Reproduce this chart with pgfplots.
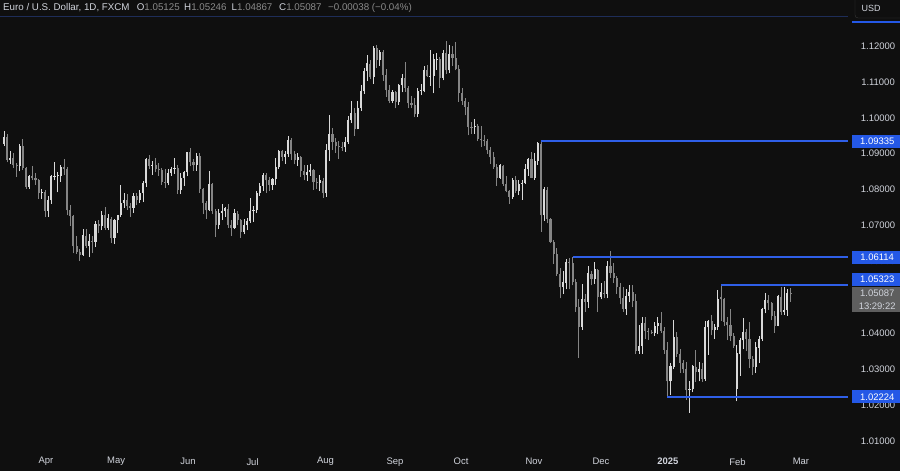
\documentclass[border=0pt]{standalone}
\usepackage{pgfplots}
\pgfplotsset{compat=1.18}
\usepackage{pgfplotstable}
\usepackage{fontspec}
\setmainfont{Liberation Sans}
\definecolor{bg}{HTML}{0F0F0F}
\definecolor{upc}{HTML}{D9D9D9}
\definecolor{dnc}{HTML}{858585}
\definecolor{lvl}{HTML}{2F5FE8}
\definecolor{lbl}{HTML}{2458E6}
\definecolor{txt}{HTML}{D1D4DC}
\definecolor{dim}{HTML}{8A8A8A}
\definecolor{greybox}{HTML}{5E5E5E}
\definecolor{topline}{HTML}{1E2D58}
\definecolor{usdb}{HTML}{3A3A3A}

\pgfplotstableread{
i o h l c
0 1.0927 1.0963 1.0922 1.0947
1 1.0947 1.0955 1.0876 1.0882
2 1.0882 1.0907 1.0872 1.0888
3 1.0888 1.0903 1.0860 1.0869
4 1.0869 1.0875 1.0836 1.0866
5 1.0866 1.0928 1.0851 1.0922
6 1.0922 1.0942 1.0855 1.0859
7 1.0859 1.0864 1.0802 1.0808
8 1.0808 1.0842 1.0802 1.0838
9 1.0838 1.0865 1.0826 1.0831
10 1.0831 1.0845 1.0813 1.0826
11 1.0826 1.0830 1.0774 1.0790
12 1.0790 1.0801 1.0775 1.0792
13 1.0792 1.0800 1.0725 1.0741
14 1.0741 1.0783 1.0724 1.0770
15 1.0770 1.0840 1.0760 1.0836
16 1.0836 1.0876 1.0826 1.0837
17 1.0837 1.0848 1.0792 1.0839
18 1.0839 1.0868 1.0822 1.0862
19 1.0862 1.0885 1.0842 1.0858
20 1.0858 1.0864 1.0728 1.0742
21 1.0742 1.0756 1.0698 1.0727
22 1.0727 1.0730 1.0622 1.0642
23 1.0642 1.0672 1.0620 1.0625
24 1.0625 1.0634 1.0601 1.0619
25 1.0619 1.0690 1.0616 1.0672
26 1.0672 1.0690 1.0636 1.0644
27 1.0644 1.0675 1.0611 1.0656
28 1.0656 1.0670 1.0624 1.0655
29 1.0655 1.0713 1.0640 1.0703
30 1.0703 1.0716 1.0678 1.0699
31 1.0699 1.0740 1.0687 1.0728
32 1.0728 1.0752 1.0688 1.0693
33 1.0693 1.0733 1.0687 1.0719
34 1.0719 1.0725 1.0650 1.0666
35 1.0666 1.0718 1.0649 1.0715
36 1.0715 1.0730 1.0679 1.0728
37 1.0728 1.0812 1.0723 1.0762
38 1.0762 1.0790 1.0750 1.0771
39 1.0771 1.0789 1.0744 1.0753
40 1.0753 1.0763 1.0724 1.0749
41 1.0749 1.0791 1.0735 1.0783
42 1.0783 1.0790 1.0756 1.0771
43 1.0771 1.0800 1.0764 1.0790
44 1.0790 1.0823 1.0765 1.0818
45 1.0818 1.0887 1.0808 1.0884
46 1.0884 1.0895 1.0858 1.0866
47 1.0866 1.0880 1.0842 1.0869
48 1.0869 1.0887 1.0848 1.0857
49 1.0857 1.0873 1.0838 1.0855
50 1.0855 1.0859 1.0814 1.0820
51 1.0820 1.0858 1.0805 1.0818
52 1.0818 1.0858 1.0812 1.0847
53 1.0847 1.0862 1.0838 1.0858
54 1.0858 1.0889 1.0844 1.0859
55 1.0859 1.0868 1.0788 1.0800
56 1.0800 1.0846 1.0788 1.0831
57 1.0831 1.0852 1.0811 1.0848
58 1.0848 1.0905 1.0837 1.0904
59 1.0904 1.0916 1.0865 1.0876
60 1.0876 1.0886 1.0853 1.0868
61 1.0868 1.0902 1.0852 1.0893
62 1.0893 1.0901 1.0791 1.0801
63 1.0801 1.0804 1.0732 1.0764
64 1.0764 1.0768 1.0719 1.0742
65 1.0742 1.0852 1.0739 1.0815
66 1.0815 1.0819 1.0732 1.0740
67 1.0740 1.0745 1.0668 1.0702
68 1.0702 1.0745 1.0691 1.0735
69 1.0735 1.0761 1.0716 1.0740
70 1.0740 1.0751 1.0725 1.0747
71 1.0747 1.0760 1.0694 1.0702
72 1.0702 1.0714 1.0671 1.0693
73 1.0693 1.0747 1.0691 1.0733
74 1.0733 1.0741 1.0700 1.0714
75 1.0714 1.0717 1.0665 1.0683
76 1.0683 1.0719 1.0675 1.0701
77 1.0701 1.0720 1.0687 1.0713
78 1.0713 1.0776 1.0708 1.0740
79 1.0740 1.0753 1.0710 1.0742
80 1.0742 1.0797 1.0736 1.0790
81 1.0790 1.0817 1.0782 1.0810
82 1.0810 1.0845 1.0796 1.0840
83 1.0840 1.0845 1.0791 1.0826
84 1.0826 1.0834 1.0796 1.0813
85 1.0813 1.0833 1.0800 1.0830
86 1.0830 1.0889 1.0814 1.0863
87 1.0863 1.0910 1.0857 1.0907
88 1.0907 1.0911 1.0879 1.0892
89 1.0892 1.0907 1.0872 1.0899
90 1.0899 1.0948 1.0892 1.0939
91 1.0939 1.0945 1.0882 1.0898
92 1.0898 1.0907 1.0870 1.0882
93 1.0882 1.0902 1.0867 1.0891
94 1.0891 1.0893 1.0835 1.0853
95 1.0853 1.0869 1.0826 1.0841
96 1.0841 1.0869 1.0825 1.0849
97 1.0849 1.0871 1.0838 1.0855
98 1.0855 1.0858 1.0800 1.0820
99 1.0820 1.0831 1.0803 1.0817
100 1.0817 1.0840 1.0797 1.0825
101 1.0825 1.0832 1.0777 1.0790
102 1.0790 1.0926 1.0780 1.0910
103 1.0910 1.1009 1.0880 1.0954
104 1.0954 1.0971 1.0910 1.0932
105 1.0932 1.0944 1.0902 1.0922
106 1.0922 1.0935 1.0886 1.0919
107 1.0919 1.0933 1.0907 1.0918
108 1.0918 1.0946 1.0906 1.0933
109 1.0933 1.1005 1.0928 1.0993
110 1.0993 1.1047 1.0985 1.1013
111 1.1013 1.1027 1.0949 1.0970
112 1.0970 1.1047 1.0968 1.1028
113 1.1028 1.1090 1.1020 1.1075
114 1.1075 1.1138 1.1067 1.1130
115 1.1130 1.1174 1.1103 1.1151
116 1.1151 1.1160 1.1107 1.1113
117 1.1113 1.1201 1.1095 1.1193
118 1.1193 1.1202 1.1138 1.1160
119 1.1160 1.1190 1.1145 1.1184
120 1.1184 1.1188 1.1102 1.1120
121 1.1120 1.1135 1.1058 1.1077
122 1.1077 1.1090 1.1040 1.1047
123 1.1047 1.1078 1.1041 1.1071
124 1.1071 1.1075 1.1026 1.1044
125 1.1044 1.1095 1.1036 1.1090
126 1.1090 1.1121 1.1071 1.1111
127 1.1111 1.1155 1.1072 1.1084
128 1.1084 1.1089 1.1026 1.1040
129 1.1040 1.1060 1.1026 1.1036
130 1.1036 1.1054 1.1002 1.1011
131 1.1011 1.1083 1.1002 1.1075
132 1.1075 1.1093 1.1063 1.1076
133 1.1076 1.1144 1.1071 1.1132
134 1.1132 1.1147 1.1115 1.1116
135 1.1116 1.1189 1.1089 1.1117
136 1.1117 1.1179 1.1068 1.1162
137 1.1162 1.1180 1.1133 1.1163
138 1.1163 1.1168 1.1083 1.1112
139 1.1112 1.1189 1.1104 1.1180
140 1.1180 1.1214 1.1123 1.1132
141 1.1132 1.1203 1.1124 1.1178
142 1.1178 1.1201 1.1144 1.1166
143 1.1166 1.1210 1.1132 1.1135
144 1.1135 1.1148 1.1045 1.1068
145 1.1068 1.1083 1.1036 1.1047
146 1.1047 1.1055 1.1007 1.1031
147 1.1031 1.1045 1.0951 1.0975
148 1.0975 1.0987 1.0955 1.0974
149 1.0974 1.0998 1.0955 1.0977
150 1.0977 1.0983 1.0935 1.0941
151 1.0941 1.0976 1.0918 1.0937
152 1.0937 1.0951 1.0922 1.0935
153 1.0935 1.0942 1.0899 1.0909
154 1.0909 1.0920 1.0872 1.0890
155 1.0890 1.0905 1.0858 1.0862
156 1.0862 1.0870 1.0811 1.0833
157 1.0833 1.0870 1.0830 1.0867
158 1.0867 1.0869 1.0810 1.0816
159 1.0816 1.0837 1.0792 1.0797
160 1.0797 1.0800 1.0761 1.0780
161 1.0780 1.0833 1.0775 1.0826
162 1.0826 1.0838 1.0790 1.0797
163 1.0797 1.0826 1.0785 1.0815
164 1.0815 1.0827 1.0771 1.0819
165 1.0819 1.0870 1.0815 1.0856
166 1.0856 1.0889 1.0838 1.0884
167 1.0884 1.0905 1.0831 1.0833
168 1.0833 1.0903 1.0828 1.0880
169 1.0880 1.0932 1.0869 1.0928
170 1.0928 1.09335 1.0683 1.0728
171 1.0728 1.0806 1.0713 1.0800
172 1.0800 1.0808 1.0706 1.0718
173 1.0718 1.0722 1.0650 1.0655
174 1.0655 1.0660 1.0594 1.0620
175 1.0620 1.0637 1.0560 1.0565
176 1.0565 1.0582 1.0497 1.0529
177 1.0529 1.0574 1.0510 1.0541
178 1.0541 1.0608 1.0522 1.0597
179 1.0597 1.0609 1.0522 1.0596
180 1.0596 1.06114 1.0533 1.0543
181 1.0543 1.0552 1.0459 1.0474
182 1.0474 1.0496 1.0332 1.0418
183 1.0418 1.0537 1.0410 1.0496
184 1.0496 1.0510 1.0460 1.0488
185 1.0488 1.0587 1.0471 1.0566
186 1.0566 1.0572 1.0533 1.0551
187 1.0551 1.0597 1.0538 1.0577
188 1.0577 1.0578 1.0460 1.0500
189 1.0500 1.0541 1.0494 1.0513
190 1.0513 1.0545 1.0497 1.0510
191 1.0510 1.0600 1.0497 1.0588
192 1.0588 1.0630 1.0555 1.0568
193 1.0568 1.0595 1.0541 1.0554
194 1.0554 1.0560 1.0510 1.0529
195 1.0529 1.0539 1.0480 1.0498
196 1.0498 1.0529 1.0460 1.0468
197 1.0468 1.0523 1.0451 1.0503
198 1.0503 1.0533 1.0486 1.0514
199 1.0514 1.0535 1.0472 1.0490
200 1.0490 1.0508 1.0342 1.0351
201 1.0351 1.0422 1.0343 1.0364
202 1.0364 1.0445 1.0343 1.0429
203 1.0429 1.0446 1.0384 1.0406
204 1.0406 1.0415 1.0382 1.0404
205 1.0404 1.0410 1.0398 1.0401
206 1.0401 1.0432 1.0392 1.0420
207 1.0420 1.0444 1.0397 1.0429
208 1.0429 1.0458 1.0401 1.0407
209 1.0407 1.0417 1.0343 1.0354
210 1.0354 1.0376 1.02224 1.0266
211 1.0266 1.0318 1.0228 1.0307
212 1.0307 1.0437 1.0299 1.0389
213 1.0389 1.0402 1.0334 1.0342
214 1.0342 1.0357 1.0290 1.0317
215 1.0317 1.0324 1.0289 1.0299
216 1.0299 1.0320 1.0215 1.0243
217 1.0243 1.0268 1.0178 1.0244
218 1.0244 1.0312 1.0235 1.0307
219 1.0307 1.0353 1.0265 1.0291
220 1.0291 1.0320 1.0266 1.0301
221 1.0301 1.0318 1.0265 1.0273
222 1.0273 1.0434 1.0268 1.0416
223 1.0416 1.0436 1.0340 1.0434
224 1.0434 1.0452 1.0394 1.0409
225 1.0409 1.0426 1.0384 1.0416
226 1.0416 1.0521 1.0410 1.0494
227 1.0502 1.05323 1.0434 1.0494
228 1.0494 1.0497 1.0420 1.0431
229 1.0431 1.0445 1.0381 1.0422
230 1.0422 1.0467 1.0377 1.0392
231 1.0392 1.0401 1.0359 1.0364
232 1.0245 1.0367 1.0210 1.0343
233 1.0343 1.0387 1.0282 1.0380
234 1.0380 1.0442 1.0355 1.0404
235 1.0404 1.0413 1.0350 1.0384
236 1.0384 1.0430 1.0302 1.0329
237 1.0329 1.0337 1.0284 1.0307
238 1.0307 1.0375 1.0290 1.0360
239 1.0360 1.0392 1.0317 1.0384
240 1.0384 1.0470 1.0378 1.0466
241 1.0466 1.0513 1.0455 1.0492
242 1.0492 1.0505 1.0465 1.0483
243 1.0483 1.0488 1.0436 1.0447
244 1.0447 1.0461 1.0401 1.0421
245 1.0421 1.0505 1.0419 1.0502
246 1.0502 1.0528 1.0452 1.0460
247 1.0460 1.0528 1.0452 1.0465
248 1.0465 1.0522 1.0448 1.05125
249 1.05125 1.05246 1.04867 1.05087
}\candles

\begin{document}
\begin{tikzpicture}[x=1bp,y=1bp]
\fill[bg] (0,0) rectangle (900,471);
\begin{axis}[
  at={(0bp,19bp)}, anchor=south west,
  scale only axis, width=848bp, height=452bp,
  xmin=-1.245, xmax=267.19, ymin=1.006908, ymax=1.132813,
  clip=false,
  axis line style={draw=none},
  major tick length=0pt,
  xtick={13.3,35.5,58.3,78.7,101.8,123.8,144.7,167.8,189.0,210.2,232.2,252.3},
  xticklabels={Apr,May,Jun,Jul,Aug,Sep,Oct,Nov,Dec,\textbf{2025},Feb,Mar},
  xticklabel style={font=\fontsize{9.5}{11}\selectfont, text=txt, anchor=center, yshift=-9.7bp},
  ytick={1.01,1.02,1.03,1.04,1.06,1.07,1.08,1.09,1.10,1.11,1.12},
  yticklabels={1.01000,1.02000,1.03000,1.04000,1.06000,1.07000,1.08000,1.09000,1.10000,1.11000,1.12000},
  yticklabel pos=right,
  yticklabel style={font=\fontsize{9.5}{11}\selectfont, text=txt, anchor=center, xshift=30bp},
]
% up candles: wick and body
\addplot[upc, draw=none, mark=none, forget plot,
  restrict expr to domain={\thisrow{c}-\thisrow{o}}{0:1},
  error bars/.cd, y dir=plus, y explicit, error mark=none,
  error bar style={line width=0.8bp, draw=upc}]
  table[x=i, y=l, y error plus expr={\thisrow{h}-\thisrow{l}}] {\candles};
\addplot[upc, draw=none, mark=none, forget plot,
  restrict expr to domain={\thisrow{c}-\thisrow{o}}{0:1},
  error bars/.cd, y dir=plus, y explicit, error mark=none,
  error bar style={line width=2.1bp, draw=upc}]
  table[x=i, y=o, y error plus expr={\thisrow{c}-\thisrow{o}+0.00005}] {\candles};
% down candles: wick and body
\addplot[dnc, draw=none, mark=none, forget plot,
  restrict expr to domain={\thisrow{o}-\thisrow{c}}{0.000001:1},
  error bars/.cd, y dir=plus, y explicit, error mark=none,
  error bar style={line width=0.8bp, draw=dnc}]
  table[x=i, y=l, y error plus expr={\thisrow{h}-\thisrow{l}}] {\candles};
\addplot[dnc, draw=none, mark=none, forget plot,
  restrict expr to domain={\thisrow{o}-\thisrow{c}}{0.000001:1},
  error bars/.cd, y dir=plus, y explicit, error mark=none,
  error bar style={line width=2.1bp, draw=dnc}]
  table[x=i, y=c, y error plus expr={\thisrow{o}-\thisrow{c}}] {\candles};
% anchor points of the horizontal levels
\coordinate (t0) at (axis cs:-1.245,1.128217);
\coordinate (t1) at (axis cs:267.19,1.128217);
\coordinate (s1) at (axis cs:170,1.09335);
\coordinate (s2) at (axis cs:180,1.06114);
\coordinate (s3) at (axis cs:227,1.05323);
\coordinate (s4) at (axis cs:210,1.02224);
\coordinate (b1) at (axis cs:267.19,1.09335);
\coordinate (b2) at (axis cs:267.19,1.06114);
\coordinate (b3) at (axis cs:267.19,1.05323);
\coordinate (b4) at (axis cs:267.19,1.02224);
\coordinate (b5) at (axis cs:267.19,1.05087);
\end{axis}
\draw[topline, line width=1.2bp] (t0) -- (t1);
\draw[lvl, line width=1.6bp] ([yshift=0.67bp]s1) -- ([yshift=0.67bp]b1);
\draw[lvl, line width=1.6bp] ([yshift=0.31bp]s2) -- ([yshift=0.31bp]b2);
\draw[lvl, line width=1.6bp] ([yshift=0.70bp]s3) -- ([yshift=0.70bp]b3);
\draw[lvl, line width=1.6bp] ([yshift=-0.04bp]s4) -- ([yshift=-0.04bp]b4);
\tikzset{pl/.style={fill=lbl, text=white, font=\fontsize{9.5}{11}\selectfont, minimum width=50bp, minimum height=13bp, inner sep=0pt, anchor=west, xshift=4bp}}
\node[pl] at (b1) {1.09335};
\node[pl] at (b2) {1.06114};
\node[pl, yshift=6bp] at (b3) {1.05323};
\node[pl] at (b4) {1.02224};
\node[pl, fill=greybox, text=txt, minimum height=25bp, align=center, font=\fontsize{9.5}{13}\selectfont, yshift=-5.5bp] at (b5) {1.05087\\13:29:22};
% price scale header
\draw[rounded corners=3bp, draw=usdb, fill=bg] (855,453) rectangle (912,476);
\node[text=txt, font=\fontsize{9}{10}\selectfont, anchor=center] at (871,462.5) {USD};
\fill[lbl] (852,447.5) rectangle (900,449.5);
% header text
\begin{scope}[every node/.style={anchor=base west, inner sep=0pt, font=\fontsize{9.8}{11}\selectfont}]
\node[text=txt] at (3,460) {Euro / U.S. Dollar, 1D, FXCM};
\node[text=txt] at (136.7,460) {O\textcolor{dim}{1.05125}};
\node[text=txt] at (184,460) {H\textcolor{dim}{1.05246}};
\node[text=txt] at (231.5,460) {L\textcolor{dim}{1.04867}};
\node[text=txt] at (279,460) {C\textcolor{dim}{1.05087}};
\node[text=dim] at (328,460) {−0.00038 (−0.04\%)};
\end{scope}
\pgfresetboundingbox
\path[use as bounding box] (0,0) rectangle (900,471);
\end{tikzpicture}
\end{document}
